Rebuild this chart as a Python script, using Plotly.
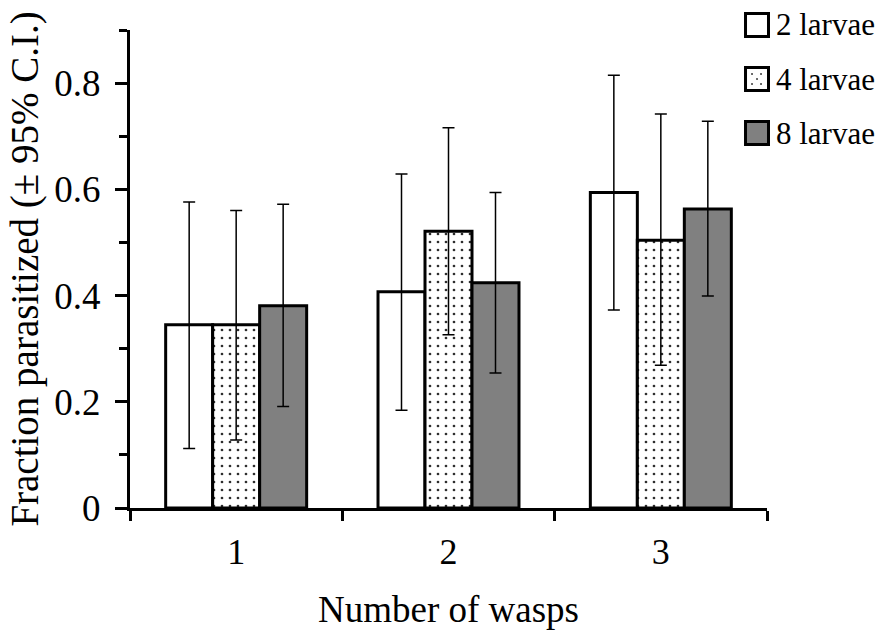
import plotly.graph_objects as go

categories = ["1", "2", "3"]
series_names = ["2 larvae", "4 larvae", "8 larvae"]
values = {
    "2 larvae": [0.345, 0.407, 0.594],
    "4 larvae": [0.345, 0.521, 0.504],
    "8 larvae": [0.381, 0.424, 0.563],
}
ci_upper = {
    "2 larvae": [0.576, 0.629, 0.815],
    "4 larvae": [0.560, 0.716, 0.742],
    "8 larvae": [0.572, 0.594, 0.728],
}
ci_lower = {
    "2 larvae": [0.112, 0.184, 0.373],
    "4 larvae": [0.128, 0.326, 0.269],
    "8 larvae": [0.191, 0.254, 0.399],
}
y_tick_vals = [0, 0.2, 0.4, 0.6, 0.8]
y_tick_text = ["0", "0.2", "0.4", "0.6", "0.8"]

FONT = "Liberation Serif"

fill_colors = {"2 larvae": "white", "4 larvae": "white", "8 larvae": "#808080"}
dot_pattern = dict(shape=".", fgcolor="#2e2e2e", bgcolor="white", size=8, solidity=0.09,
                   fillmode="replace")

fig = go.Figure()
for name in series_names:
    v = values[name]
    up = [u - a for u, a in zip(ci_upper[name], v)]
    lo = [a - l for a, l in zip(v, ci_lower[name])]
    marker = dict(color=fill_colors[name], line=dict(color="black", width=3))
    if name == "4 larvae":
        marker["pattern"] = dot_pattern
    fig.add_trace(go.Bar(
        x=categories, y=v, name=name, marker=marker, showlegend=False,
        error_y=dict(type="data", symmetric=False, array=up, arrayminus=lo,
                     color="black", thickness=1.5, width=6),
    ))

# plot area in pixels: x 130..767.5, y 508 (value 0) .. 30 (value 0.9)
L, R, T, B = 130, 767.5, 30, 508
def px(x):
    return (x - L) / (R - L)
def py(y):
    return (B - y) / (B - T)

legend_centers = [25, 79, 133]
box_half = 11.5
for name, cy in zip(series_names, legend_centers):
    fig.add_shape(type="rect", xref="paper", yref="paper",
                  x0=px(746), x1=px(769), y0=py(cy + box_half), y1=py(cy - box_half),
                  line=dict(color="black", width=3), fillcolor=fill_colors[name], layer="above")
    if name == "4 larvae":
        for dx, dy in [(-5, -5), (4, -5), (0, 0), (-5, 5), (4, 5)]:
            fig.add_shape(type="circle", xref="paper", yref="paper",
                          x0=px(757.5 + dx - 1), x1=px(757.5 + dx + 1),
                          y0=py(cy + dy + 1), y1=py(cy + dy - 1),
                          line=dict(width=0), fillcolor="#3a3a3a", layer="above")
    fig.add_annotation(xref="paper", yref="paper", x=px(775), y=py(cy),
                       xanchor="left", yanchor="middle", showarrow=False,
                       text=name, font=dict(size=31, family=FONT, color="black"))

fig.update_layout(
    width=890, height=642,
    margin=dict(l=L, r=890 - R, t=T, b=642 - B),
    paper_bgcolor="white", plot_bgcolor="white",
    barmode="group", bargap=0.336, bargroupgap=0,
    font=dict(family=FONT, color="black", size=36),
    showlegend=False,
)
fig.update_xaxes(
    type="category", showline=True, linecolor="black", linewidth=3,
    ticks="outside", tickson="boundaries", ticklen=10, tickwidth=2.5, tickcolor="black",
    tickfont=dict(size=36, family=FONT), ticklabelstandoff=10,
    title=dict(text="Number of wasps", font=dict(size=37, family=FONT), standoff=25),
    showgrid=False, zeroline=False,
)
fig.update_yaxes(
    range=[0, 0.9], showline=True, linecolor="black", linewidth=3,
    tickmode="array", tickvals=y_tick_vals, ticktext=y_tick_text,
    ticks="outside", ticklen=12, tickwidth=2.5, tickcolor="black",
    minor=dict(tickmode="linear", tick0=0.1, dtick=0.2, ticks="outside", ticklen=8,
               tickwidth=2.5, tickcolor="black", showgrid=False),
    tickfont=dict(size=37, family=FONT), ticklabelstandoff=7,
    title=dict(text="Fraction parasitized (± 95% C.I.)", font=dict(size=39, family=FONT), standoff=4),
    showgrid=False, zeroline=False,
)

fig.write_html("out.html")
